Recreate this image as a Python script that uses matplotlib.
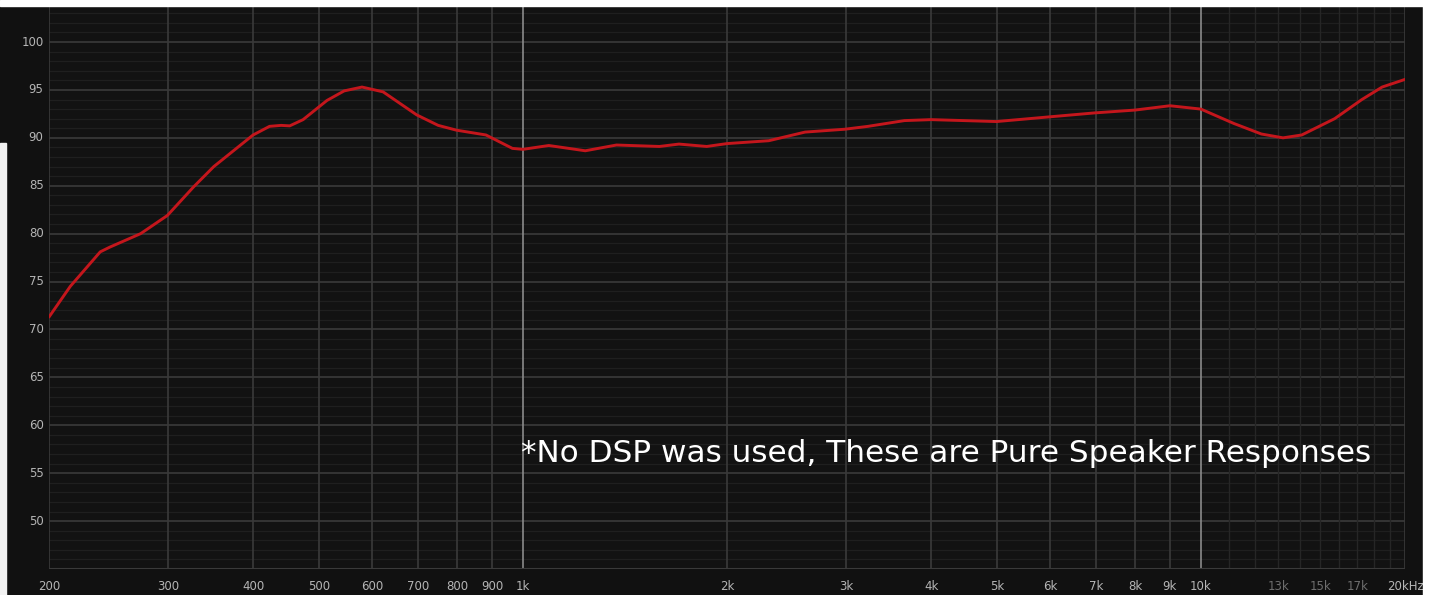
import numpy as np
import matplotlib
matplotlib.use("Agg")
import matplotlib.pyplot as plt
from matplotlib.patches import Rectangle

# frequency response (Hz, dB)
freq = [200, 215, 238, 246, 273, 299, 327, 350, 400, 423, 440, 453, 474, 514,
        545, 579, 622, 697, 750, 798, 882, 965, 1000, 1092, 1236, 1374, 1590,
        1699, 1867, 2000, 2305, 2607, 2985, 3229, 3654, 4000, 4995, 6000, 6963,
        8000, 9000, 10000, 11184, 12280, 13218, 14086, 15750, 17278, 18504, 20000]
spl = [71.3, 74.5, 78.1, 78.6, 80.0, 81.9, 84.9, 87.0, 90.3, 91.2, 91.3, 91.25,
       91.9, 93.9, 94.9, 95.3, 94.8, 92.4, 91.3, 90.8, 90.3, 88.9, 88.8, 89.2,
       88.65, 89.25, 89.1, 89.35, 89.1, 89.4, 89.7, 90.6, 90.9, 91.2, 91.8,
       91.9, 91.7, 92.2, 92.6, 92.9, 93.35, 93.0, 91.5, 90.4, 90.0, 90.3, 92.0,
       94.0, 95.3, 96.1]

major_f = [200, 300, 400, 500, 600, 700, 800, 900, 1000,
           2000, 3000, 4000, 5000, 6000, 7000, 8000, 9000, 10000, 20000]
major_lbl = ["200", "300", "400", "500", "600", "700", "800", "900", "1k",
             "2k", "3k", "4k", "5k", "6k", "7k", "8k", "9k", "10k", "20kHz"]
minor_f = [11000, 12000, 13000, 14000, 15000, 16000, 17000, 18000, 19000]
dim_f = [13000, 15000, 17000]
dim_lbl = ["13k", "15k", "17k"]
y_ticks = [50, 55, 60, 65, 70, 75, 80, 85, 90, 95, 100]

W, H = 1433, 595
fig = plt.figure(figsize=(W / 100, H / 100), dpi=100, facecolor="#111111")
ax = fig.add_axes([49 / W, 1 - 569 / H, (1405 - 49) / W, (569 - 6) / H])
ax.set_facecolor("#121212")
ax.set_xscale("log")
ax.set_xlim(200, 20000)
ax.set_ylim(45, 103.76)

# grid
for y in range(46, 104):
    c = "#3a3a3a" if y % 5 == 0 else "#1f1f1f"
    ax.axhline(y, color=c, lw=1.2 if y % 5 == 0 else 0.9, zorder=1)
for f in major_f:
    c = "#8a8a8a" if f in (1000, 10000) else "#3a3a3a"
    ax.axvline(f, color=c, lw=1.2, zorder=1)
for f in minor_f:
    ax.axvline(f, color="#262626", lw=1.0, zorder=1)
ax.axhline(45, color="#3a3a3a", lw=1.5, zorder=1)

ax.plot(freq, spl, color="#c4161c", lw=2.1, solid_capstyle="round",
        solid_joinstyle="round", zorder=3)

ax.set_xticks([])
ax.set_yticks([])
ax.minorticks_off()
for s in ax.spines.values():
    s.set_visible(False)

for y in y_ticks:
    ax.text(-0.004, y, str(y), transform=ax.get_yaxis_transform(),
            ha="right", va="center", color="#b5b5b5", fontsize=8.5,
            family="DejaVu Sans")
for f, l in zip(major_f, major_lbl):
    ax.text(f, -0.02, l, transform=ax.get_xaxis_transform(),
            ha="center", va="top", color="#b5b5b5", fontsize=8.5,
            family="DejaVu Sans")
for f, l in zip(dim_f, dim_lbl):
    ax.text(f, -0.02, l, transform=ax.get_xaxis_transform(),
            ha="center", va="top", color="#6e6e6e", fontsize=8.5,
            family="DejaVu Sans")

ax.text(0.348, 0.205, "*No DSP was used, These are Pure Speaker Responses",
        transform=ax.transAxes, ha="left", va="center", color="white",
        fontsize=22.4, family="DejaVu Sans", zorder=4)

# screenshot edges
fig.patches.append(Rectangle((0, 1 - 6 / H), 1, 6 / H, transform=fig.transFigure,
                             color="white", zorder=10))
fig.patches.append(Rectangle((1423 / W, 0), 10 / W, 1, transform=fig.transFigure,
                             color="white", zorder=10))
fig.patches.append(Rectangle((0, 0), 6 / W, 1 - 143 / H, transform=fig.transFigure,
                             color="#f2f2f2", zorder=10))

fig.savefig("out.png", dpi=100, facecolor=fig.get_facecolor())
